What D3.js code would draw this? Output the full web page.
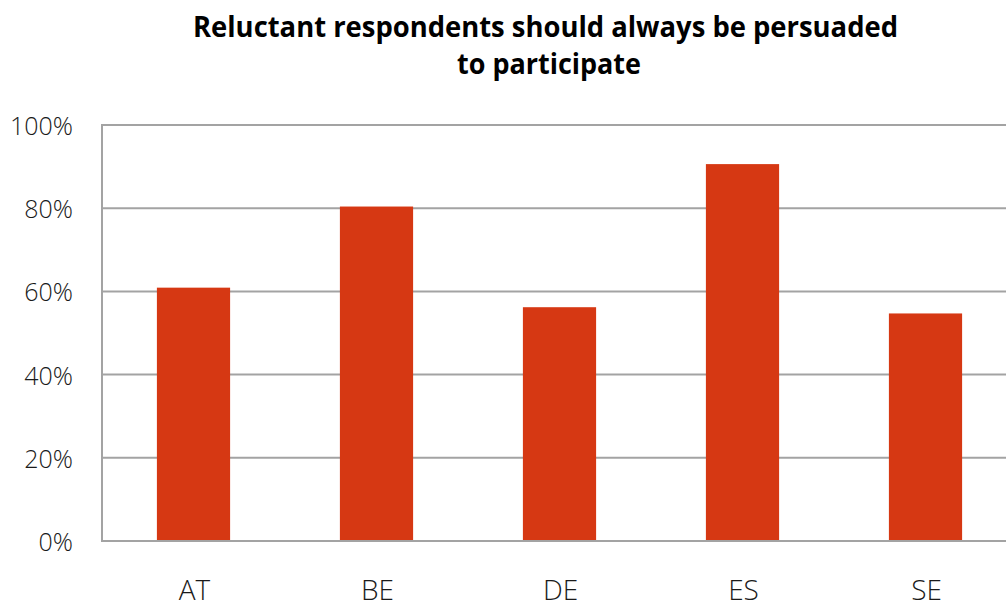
<!DOCTYPE html>
<html>
<head>
<meta charset="utf-8">
<script src="https://cdn.jsdelivr.net/npm/d3@7"></script>
<style>
  html, body { margin: 0; padding: 0; background: #fff; overflow: hidden; }
  svg { display: block; }
  .tick-label { font-family: "Open Sans", "Noto Sans", sans-serif; font-weight: 300; fill: #1a1a1a; }
  .title { font-family: "Open Sans", "Noto Sans", sans-serif; font-weight: 700; fill: #000; }
</style>
</head>
<body>
<svg id="chart" width="1006" height="605"></svg>
<script>
// Survey share agreeing with the statement, by country
const countries = ["AT", "BE", "DE", "ES", "SE"];
const shares = [0.609, 0.804, 0.562, 0.906, 0.547];
const yTicks = [0, 0.2, 0.4, 0.6, 0.8, 1.0];
const titleLines = ["Reluctant respondents should always be persuaded", "to participate"];

const svg = d3.select("#chart");

const plot = { left: 102, right: 1017, top: 125, bottom: 541 };

const x = d3.scaleBand()
  .domain(countries)
  .range([plot.left, plot.right])
  .paddingInner(0.6)
  .paddingOuter(0.3);

const y = d3.scaleLinear()
  .domain([0, 1])
  .range([plot.bottom, plot.top]);

const gridColor = "#a3a3a3";

// horizontal gridlines
svg.append("g")
  .selectAll("line")
  .data(yTicks.filter(d => d > 0))
  .join("line")
  .attr("x1", plot.left)
  .attr("x2", plot.right)
  .attr("y1", d => y(d))
  .attr("y2", d => y(d))
  .attr("stroke", gridColor)
  .attr("stroke-width", 2);

// bars
svg.append("g")
  .selectAll("rect")
  .data(countries.map((c, i) => ({ c, v: shares[i] })))
  .join("rect")
  .attr("x", d => x(d.c))
  .attr("width", x.bandwidth())
  .attr("y", d => y(d.v))
  .attr("height", d => y(0) - y(d.v))
  .attr("fill", "#d63813");

// axis lines
svg.append("line")
  .attr("x1", plot.left).attr("x2", plot.right)
  .attr("y1", y(0)).attr("y2", y(0))
  .attr("stroke", gridColor).attr("stroke-width", 2);
svg.append("line")
  .attr("x1", plot.left).attr("x2", plot.left)
  .attr("y1", plot.top - 1).attr("y2", y(0) + 1)
  .attr("stroke", gridColor).attr("stroke-width", 2);

// y tick labels
svg.append("g")
  .selectAll("text")
  .data(yTicks)
  .join("text")
  .attr("class", "tick-label")
  .attr("x", 73)
  .attr("y", d => y(d) + 10)
  .attr("text-anchor", "end")
  .attr("font-size", 25)
  .text(d => d3.format(".0%")(d));

// x category labels
svg.append("g")
  .selectAll("text")
  .data(countries)
  .join("text")
  .attr("class", "tick-label")
  .attr("x", d => x(d) + x.bandwidth() / 2 + 1)
  .attr("y", 600)
  .attr("text-anchor", "middle")
  .attr("font-size", 28)
  .text(d => d);

// two-line title
const titleSpecs = [
  { x: 193, y: 37, len: 705 },
  { x: 457, y: 73.5, len: 184 }
];
svg.append("g")
  .selectAll("text")
  .data(titleLines)
  .join("text")
  .attr("class", "title")
  .attr("x", (d, i) => titleSpecs[i].x)
  .attr("y", (d, i) => titleSpecs[i].y)
  .attr("font-size", 28)
  .attr("textLength", (d, i) => titleSpecs[i].len)
  .attr("lengthAdjust", "spacingAndGlyphs")
  .text(d => d);
</script>
</body>
</html>
